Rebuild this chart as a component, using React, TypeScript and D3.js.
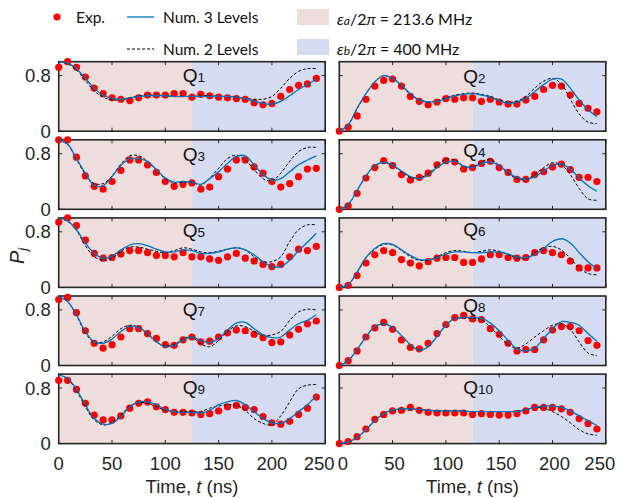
import React from 'react';
import * as d3 from 'd3';

// sampling times (ns) of measured points and simulated curves
const times = [0, 8.33, 16.67, 25, 33.33, 41.67, 50, 58.33, 66.67, 75, 83.33, 91.67, 100, 108.33, 116.67, 125, 133.33, 141.67, 150, 158.33, 166.67, 175, 183.33, 191.67, 200, 208.33, 216.67, 225, 233.33, 241.67];

const xTicks = [0, 50, 100, 150, 200, 250];
const yTicks = [0, 0.8];
const yTickLabels = ['0', '0.8'];
const qubits = ['1', '2', '3', '4', '5', '6', '7', '8', '9', '10'];

const expQ1 = [0.92, 1.0, 0.92, 0.78, 0.62, 0.54, 0.48, 0.46, 0.44, 0.48, 0.52, 0.52, 0.52, 0.54, 0.54, 0.49, 0.53, 0.51, 0.49, 0.48, 0.47, 0.46, 0.41, 0.38, 0.40, 0.50, 0.60, 0.66, 0.68, 0.76];
const num3Q1 = [1.0, 0.98, 0.9, 0.76, 0.62, 0.52, 0.47, 0.46, 0.48, 0.5, 0.51, 0.51, 0.51, 0.5, 0.5, 0.5, 0.5, 0.5, 0.5, 0.5, 0.49, 0.47, 0.43, 0.40, 0.39, 0.43, 0.51, 0.6, 0.67, 0.75];
const num2Q1 = [1.0, 0.97, 0.88, 0.73, 0.58, 0.49, 0.45, 0.45, 0.48, 0.51, 0.52, 0.52, 0.51, 0.5, 0.5, 0.5, 0.51, 0.51, 0.5, 0.5, 0.49, 0.47, 0.46, 0.46, 0.50, 0.62, 0.76, 0.86, 0.9, 0.9];

const expQ2 = [0.0, 0.06, 0.22, 0.46, 0.65, 0.73, 0.75, 0.65, 0.50, 0.43, 0.38, 0.42, 0.47, 0.46, 0.48, 0.48, 0.43, 0.46, 0.42, 0.39, 0.39, 0.45, 0.50, 0.60, 0.66, 0.65, 0.52, 0.40, 0.33, 0.28];
const num3Q2 = [0.0, 0.09, 0.33, 0.54, 0.71, 0.8, 0.76, 0.66, 0.54, 0.45, 0.42, 0.43, 0.47, 0.51, 0.53, 0.54, 0.52, 0.49, 0.44, 0.40, 0.42, 0.47, 0.57, 0.67, 0.75, 0.75, 0.62, 0.45, 0.31, 0.21];
const num2Q2 = [0.0, 0.09, 0.32, 0.54, 0.71, 0.8, 0.76, 0.65, 0.53, 0.45, 0.42, 0.44, 0.48, 0.52, 0.54, 0.55, 0.53, 0.5, 0.45, 0.42, 0.43, 0.5, 0.62, 0.72, 0.76, 0.68, 0.46, 0.25, 0.13, 0.11];

const expQ3 = [1.0, 1.0, 0.75, 0.48, 0.33, 0.29, 0.40, 0.56, 0.71, 0.71, 0.64, 0.53, 0.40, 0.33, 0.36, 0.38, 0.29, 0.32, 0.47, 0.58, 0.71, 0.71, 0.61, 0.52, 0.40, 0.32, 0.37, 0.47, 0.58, 0.59];
const num3Q3 = [1.0, 0.94, 0.73, 0.52, 0.34, 0.34, 0.47, 0.63, 0.73, 0.73, 0.69, 0.57, 0.45, 0.39, 0.40, 0.39, 0.36, 0.44, 0.54, 0.66, 0.76, 0.77, 0.64, 0.50, 0.42, 0.44, 0.54, 0.64, 0.71, 0.77];
const num2Q3 = [1.0, 0.93, 0.72, 0.5, 0.37, 0.37, 0.48, 0.65, 0.77, 0.77, 0.69, 0.56, 0.44, 0.38, 0.39, 0.39, 0.35, 0.45, 0.59, 0.73, 0.78, 0.71, 0.57, 0.44, 0.41, 0.52, 0.69, 0.83, 0.89, 0.89];

const expQ4 = [0.0, 0.05, 0.23, 0.45, 0.60, 0.70, 0.63, 0.50, 0.42, 0.46, 0.52, 0.64, 0.70, 0.68, 0.58, 0.60, 0.66, 0.69, 0.60, 0.53, 0.43, 0.43, 0.50, 0.54, 0.61, 0.65, 0.57, 0.46, 0.46, 0.40];
const num3Q4 = [0.0, 0.07, 0.27, 0.48, 0.63, 0.68, 0.64, 0.55, 0.47, 0.44, 0.49, 0.6, 0.68, 0.69, 0.62, 0.6, 0.66, 0.68, 0.63, 0.53, 0.46, 0.43, 0.47, 0.55, 0.63, 0.65, 0.58, 0.45, 0.34, 0.26];
const num2Q4 = [0.0, 0.07, 0.27, 0.48, 0.63, 0.67, 0.63, 0.54, 0.46, 0.45, 0.51, 0.63, 0.72, 0.71, 0.62, 0.61, 0.68, 0.72, 0.63, 0.52, 0.44, 0.43, 0.5, 0.6, 0.67, 0.64, 0.5, 0.3, 0.15, 0.13];

const expQ5 = [0.94, 1.0, 0.89, 0.68, 0.49, 0.42, 0.43, 0.48, 0.53, 0.53, 0.50, 0.46, 0.46, 0.44, 0.50, 0.44, 0.44, 0.41, 0.39, 0.44, 0.49, 0.42, 0.38, 0.33, 0.30, 0.33, 0.44, 0.55, 0.53, 0.59];
const num3Q5 = [1.0, 0.96, 0.83, 0.64, 0.49, 0.42, 0.45, 0.54, 0.61, 0.63, 0.6, 0.55, 0.51, 0.51, 0.54, 0.53, 0.49, 0.49, 0.51, 0.55, 0.57, 0.54, 0.47, 0.37, 0.30, 0.30, 0.39, 0.53, 0.65, 0.78];
const num2Q5 = [1.0, 0.95, 0.82, 0.6, 0.44, 0.39, 0.42, 0.52, 0.58, 0.58, 0.55, 0.52, 0.5, 0.53, 0.57, 0.55, 0.51, 0.5, 0.52, 0.55, 0.57, 0.54, 0.44, 0.37, 0.37, 0.44, 0.66, 0.83, 0.9, 0.9];

const expQ6 = [0.0, 0.03, 0.17, 0.35, 0.47, 0.53, 0.50, 0.40, 0.35, 0.31, 0.37, 0.42, 0.43, 0.43, 0.36, 0.36, 0.41, 0.47, 0.47, 0.43, 0.42, 0.43, 0.50, 0.53, 0.50, 0.47, 0.38, 0.28, 0.28, 0.28];
const num3Q6 = [0.0, 0.04, 0.22, 0.43, 0.56, 0.63, 0.62, 0.54, 0.46, 0.40, 0.40, 0.43, 0.48, 0.51, 0.51, 0.5, 0.5, 0.51, 0.51, 0.48, 0.44, 0.43, 0.47, 0.56, 0.66, 0.70, 0.64, 0.5, 0.37, 0.27];
const num2Q6 = [0.0, 0.04, 0.21, 0.42, 0.55, 0.62, 0.61, 0.53, 0.44, 0.39, 0.39, 0.44, 0.5, 0.53, 0.52, 0.5, 0.52, 0.54, 0.52, 0.47, 0.42, 0.42, 0.5, 0.57, 0.59, 0.54, 0.42, 0.28, 0.2, 0.18];

const expQ7 = [0.95, 0.98, 0.76, 0.50, 0.32, 0.25, 0.30, 0.41, 0.53, 0.53, 0.46, 0.39, 0.30, 0.29, 0.37, 0.41, 0.34, 0.35, 0.41, 0.47, 0.51, 0.50, 0.45, 0.40, 0.33, 0.34, 0.44, 0.52, 0.60, 0.64];
const num3Q7 = [0.99, 0.92, 0.73, 0.49, 0.34, 0.32, 0.38, 0.49, 0.56, 0.55, 0.46, 0.34, 0.27, 0.29, 0.37, 0.41, 0.36, 0.33, 0.39, 0.51, 0.61, 0.62, 0.53, 0.44, 0.40, 0.41, 0.51, 0.60, 0.65, 0.73];
const num2Q7 = [1.0, 0.92, 0.72, 0.47, 0.33, 0.34, 0.42, 0.53, 0.58, 0.55, 0.45, 0.34, 0.28, 0.3, 0.38, 0.41, 0.31, 0.27, 0.36, 0.49, 0.57, 0.56, 0.49, 0.43, 0.44, 0.49, 0.65, 0.77, 0.81, 0.8];

const expQ8 = [0.0, 0.07, 0.21, 0.41, 0.54, 0.62, 0.52, 0.37, 0.26, 0.24, 0.32, 0.46, 0.59, 0.69, 0.72, 0.67, 0.66, 0.53, 0.45, 0.32, 0.21, 0.23, 0.23, 0.37, 0.51, 0.56, 0.56, 0.50, 0.36, 0.29];
const num3Q8 = [0.0, 0.07, 0.23, 0.41, 0.56, 0.6, 0.55, 0.43, 0.3, 0.22, 0.27, 0.42, 0.58, 0.68, 0.69, 0.69, 0.68, 0.61, 0.5, 0.36, 0.24, 0.21, 0.25, 0.39, 0.53, 0.63, 0.62, 0.58, 0.46, 0.35];
const num2Q8 = [0.0, 0.07, 0.23, 0.41, 0.56, 0.6, 0.55, 0.43, 0.3, 0.22, 0.27, 0.42, 0.58, 0.68, 0.68, 0.68, 0.66, 0.55, 0.42, 0.3, 0.25, 0.31, 0.41, 0.5, 0.58, 0.6, 0.52, 0.34, 0.18, 0.14];

const expQ9 = [0.91, 0.91, 0.78, 0.58, 0.41, 0.34, 0.34, 0.40, 0.51, 0.58, 0.60, 0.53, 0.49, 0.45, 0.45, 0.44, 0.42, 0.43, 0.47, 0.53, 0.55, 0.52, 0.49, 0.39, 0.30, 0.28, 0.32, 0.42, 0.51, 0.67];
const num3Q9 = [0.99, 0.94, 0.78, 0.56, 0.36, 0.28, 0.29, 0.39, 0.53, 0.60, 0.60, 0.56, 0.49, 0.46, 0.45, 0.45, 0.44, 0.48, 0.56, 0.60, 0.62, 0.56, 0.46, 0.36, 0.30, 0.29, 0.36, 0.46, 0.56, 0.69];
const num2Q9 = [1.0, 0.93, 0.76, 0.53, 0.34, 0.27, 0.30, 0.41, 0.54, 0.59, 0.58, 0.53, 0.48, 0.46, 0.46, 0.46, 0.46, 0.51, 0.54, 0.56, 0.55, 0.48, 0.36, 0.29, 0.27, 0.4, 0.6, 0.79, 0.84, 0.85];

const expQ10 = [0.0, 0.03, 0.10, 0.21, 0.35, 0.42, 0.47, 0.48, 0.52, 0.48, 0.45, 0.44, 0.44, 0.44, 0.44, 0.42, 0.43, 0.42, 0.41, 0.41, 0.43, 0.47, 0.52, 0.52, 0.52, 0.50, 0.45, 0.36, 0.29, 0.21];
const num3Q10 = [0.0, 0.02, 0.09, 0.2, 0.33, 0.43, 0.48, 0.5, 0.5, 0.49, 0.48, 0.47, 0.47, 0.47, 0.47, 0.46, 0.46, 0.46, 0.46, 0.46, 0.46, 0.49, 0.52, 0.54, 0.54, 0.52, 0.47, 0.4, 0.33, 0.26];
const num2Q10 = [0.0, 0.02, 0.09, 0.2, 0.33, 0.43, 0.48, 0.5, 0.5, 0.49, 0.48, 0.47, 0.47, 0.47, 0.47, 0.46, 0.46, 0.46, 0.46, 0.46, 0.47, 0.49, 0.52, 0.51, 0.46, 0.39, 0.3, 0.2, 0.14, 0.12];

const boundaryT = 125; // detuning switched from εa to εb

const expSeries = [expQ1, expQ2, expQ3, expQ4, expQ5, expQ6, expQ7, expQ8, expQ9, expQ10];
const num3Series = [num3Q1, num3Q2, num3Q3, num3Q4, num3Q5, num3Q6, num3Q7, num3Q8, num3Q9, num3Q10];
const num2Series = [num2Q1, num2Q2, num2Q3, num2Q4, num2Q5, num2Q6, num2Q7, num2Q8, num2Q9, num2Q10];

// layout (style)
const colLeft = [58.7, 339.3];
const panelW = 266.5;
const rowTop0 = 61.7;
const rowStep = 78.1;
const panelH = 69.5;
const labelBaseline = [20, 21, 21, 17, 19, 18, 20, 16, 20, 20];

const PINK = '#EEDDDD';
const BLUE_BG = '#D5DBF1';
const FRAME = '#262626';
const LINE_BLUE = '#0072BD';
const DOT_RED = '#FF0000';
const AXFONT = '"Liberation Sans", Arial, Helvetica, sans-serif';
const LEGFONT = 'Lato, "Open Sans", sans-serif';

function tickLabelShift(t: number, col: number) {
  if (t === 250) return -6;
  if (t === 0 && col === 1) return 3.5;
  return col === 1 ? 2 : 0;
}

function Panel({ idx }: { idx: number }) {
  const col = idx % 2;
  const row = Math.floor(idx / 2);
  const x0 = colLeft[col];
  const top = rowTop0 + row * rowStep;
  const x = d3.scaleLinear().domain([0, 250]).range([x0, x0 + panelW]);
  const y = d3.scaleLinear().domain([0, 1]).range([top + panelH, top]);
  const pts3 = times.map((t, i) => [t, num3Series[idx][i]] as [number, number]);
  const pts2 = times.map((t, i) => [t, num2Series[idx][i]] as [number, number]);
  const line = d3.line<[number, number]>().x(d => x(d[0])).y(d => y(d[1])).curve(d3.curveCatmullRom.alpha(0.5));
  const bottomRow = row === 4;
  const tk = 3.5;
  return (
    <g>
      <rect x={x(0)} y={y(1)} width={x(boundaryT) - x(0)} height={y(0) - y(1)} fill={PINK} />
      <rect x={x(boundaryT)} y={y(1)} width={x(250) - x(boundaryT)} height={y(0) - y(1)} fill={BLUE_BG} />
      <g stroke={FRAME} strokeWidth={1}>
        {xTicks.map(t => (
          <g key={'xt' + t}>
            <line x1={x(t)} x2={x(t)} y1={y(0)} y2={y(0) - tk} />
            <line x1={x(t)} x2={x(t)} y1={y(1)} y2={y(1) + tk} />
          </g>
        ))}
        {yTicks.map(v => (
          <g key={'yt' + v}>
            <line x1={x(0)} x2={x(0) + tk} y1={y(v)} y2={y(v)} />
            <line x1={x(250)} x2={x(250) - tk} y1={y(v)} y2={y(v)} />
          </g>
        ))}
      </g>
      <rect x={x(0)} y={y(1)} width={x(250) - x(0)} height={y(0) - y(1)} fill="none" stroke={FRAME} strokeWidth={1.6} />
      {col === 0 && yTicks.map((v, i) => (
        <text key={'yl' + v} x={x(0) - 8} y={y(v) + 6.5} textAnchor="end" fontFamily={AXFONT} fontSize={18.5} fill="#262626">{yTickLabels[i]}</text>
      ))}
      {bottomRow && xTicks.map(t => (
        <text key={'xl' + t} x={x(t) + tickLabelShift(t, col)} y={469.5} textAnchor="middle" fontFamily={AXFONT} fontSize={18.5} fill="#262626">{t}</text>
      ))}
      {bottomRow && (
        <text x={(x(0) + x(250)) / 2} y={493} textAnchor="middle" fontFamily={AXFONT} fontSize={18.5} fill="#262626">
          Time, <tspan fontStyle="italic">t</tspan> (ns)
        </text>
      )}
      {expSeries[idx].map((v, i) => (
        <circle key={'d' + i} cx={x(times[i])} cy={y(v)} r={3.6} fill={DOT_RED} />
      ))}
      <path d={line(pts2) || ''} fill="none" stroke="#000" strokeWidth={1} strokeDasharray="3,2" />
      <path d={line(pts3) || ''} fill="none" stroke={LINE_BLUE} strokeWidth={1.3} />
      <text x={x(0) + 124} y={top + labelBaseline[idx]} fontFamily={AXFONT} fontSize={19} fill="#111">
        Q<tspan fontSize={13.5}>{qubits[idx]}</tspan>
      </text>
    </g>
  );
}

export default function App() {
  return (
    <svg width={619} height={498} style={{ position: 'absolute', left: 0, top: 0, background: '#fff' }}>
      {/* legend */}
      <circle cx={57} cy={17} r={3.6} fill={DOT_RED} />
      <text x={76} y={23} fontFamily={LEGFONT} fontSize={15.5} fill="#111">Exp.</text>
      <line x1={127} x2={154} y1={17} y2={17} stroke={LINE_BLUE} strokeWidth={1.3} />
      <text x={163} y={23} fontFamily={LEGFONT} fontSize={15.5} fill="#111">Num. 3 Levels</text>
      <line x1={127} x2={154} y1={49} y2={49} stroke="#000" strokeWidth={1} strokeDasharray="3,2" />
      <text x={163} y={55} fontFamily={LEGFONT} fontSize={15.5} fill="#111">Num. 2 Levels</text>
      <rect x={297} y={9} width={32} height={16} fill={PINK} />
      <text x={337} y={25} fontFamily={LEGFONT} fontSize={16} fill="#111">
        <tspan fontStyle="italic">ε</tspan><tspan fontStyle="italic" fontSize={12}>a</tspan>/2<tspan fontStyle="italic">π</tspan> = 213.6 MHz
      </text>
      <rect x={297} y={39} width={32} height={16} fill={BLUE_BG} />
      <text x={337} y={55} fontFamily={LEGFONT} fontSize={16} fill="#111">
        <tspan fontStyle="italic">ε</tspan><tspan fontStyle="italic" fontSize={12}>b</tspan>/2<tspan fontStyle="italic">π</tspan> = 400 MHz
      </text>
      {/* y-axis label */}
      <text transform="translate(24,256) rotate(-90)" textAnchor="middle" fontFamily={AXFONT} fill="#262626">
        <tspan fontStyle="italic" fontSize={20}>P</tspan><tspan fontStyle="italic" fontSize={13} dy={3}>j</tspan>
      </text>
      {qubits.map((q, i) => <Panel key={q} idx={i} />)}
    </svg>
  );
}
